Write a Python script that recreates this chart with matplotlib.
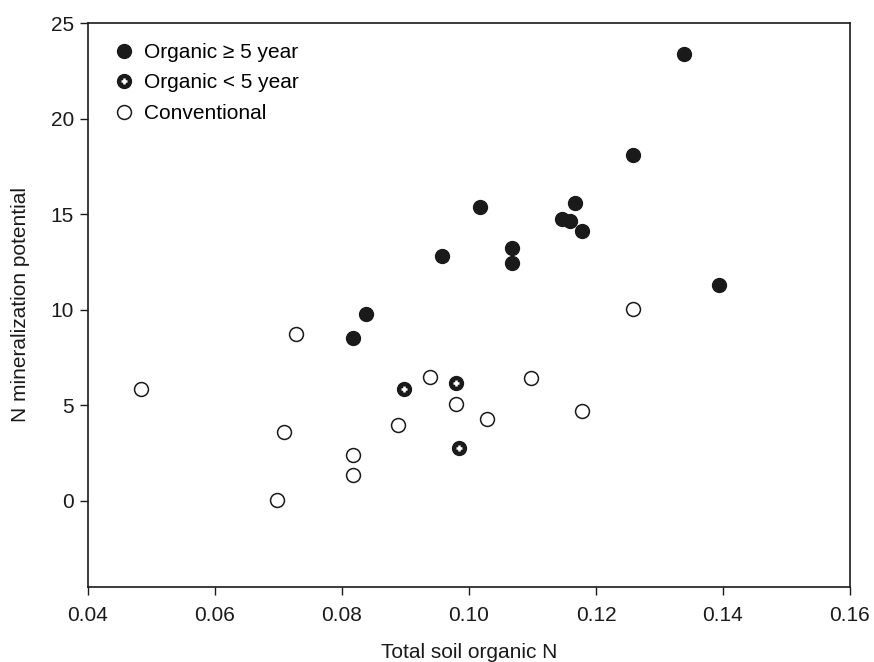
import matplotlib
matplotlib.use("Agg")
import matplotlib.pyplot as plt
from matplotlib.lines import Line2D

plt.rcParams['font.family'] = ['Liberation Sans', 'DejaVu Sans']

# Organic >= 5 year
org5_x = [0.1338, 0.1258, 0.1167, 0.1018, 0.1147, 0.1159, 0.1178, 0.1068, 0.1068, 0.0958, 0.1393, 0.0838, 0.0818]
org5_y = [23.38, 18.10, 15.59, 15.38, 14.75, 14.66, 14.10, 13.23, 12.47, 12.81, 11.32, 9.79, 8.51]

# Organic < 5 year
orgl_x = [0.0898, 0.0979, 0.0985]
orgl_y = [5.85, 6.19, 2.78]

# Conventional
conv_x = [0.0483, 0.0728, 0.0708, 0.0818, 0.0818, 0.0698, 0.0888, 0.0938, 0.0979, 0.1028, 0.1098, 0.1178, 0.1258]
conv_y = [5.85, 8.74, 3.58, 2.41, 1.35, 0.04, 3.97, 6.47, 5.05, 4.27, 6.41, 4.70, 10.05]

xticks = [0.04, 0.06, 0.08, 0.10, 0.12, 0.14, 0.16]
yticks = [0, 5, 10, 15, 20, 25]

fig = plt.figure(figsize=(8.74, 6.62), dpi=100)
ax = fig.add_axes([0.1007, 0.1138, 0.9725 - 0.1007, 0.9648 - 0.1138])

ms = 10
ax.plot(org5_x, org5_y, 'o', ms=ms, mfc='#1a1a1a', mec='#1a1a1a', mew=1.0, ls='none')
ax.plot(orgl_x, orgl_y, 'o', ms=ms, mfc='#1a1a1a', mec='#1a1a1a', mew=1.0, ls='none')
ax.plot(orgl_x, orgl_y, '+', ms=4.5, mec='white', mew=1.8, ls='none')
ax.plot(conv_x, conv_y, 'o', ms=ms, mfc='white', mec='#1a1a1a', mew=1.1, ls='none')

ax.set_xlim(0.04, 0.16)
ax.set_ylim(-4.5, 25)
ax.set_xticks(xticks)
ax.set_xticklabels([f"{v:.2f}" for v in xticks])
ax.set_yticks(yticks)
ax.set_yticklabels([str(v) for v in yticks])
ax.tick_params(direction='out', length=6, width=1.0, labelsize=15, pad=8, colors='#1a1a1a')
ax.tick_params(axis='y', pad=4)
for s in ax.spines.values():
    s.set_linewidth(1.2)
    s.set_color('#1a1a1a')

ax.set_xlabel('Total soil organic N', fontsize=15, labelpad=13, color='#1a1a1a')
ax.set_ylabel('N mineralization potential', fontsize=15, labelpad=15, color='#1a1a1a')

h1 = Line2D([], [], marker='o', ls='none', ms=ms, mfc='#1a1a1a', mec='#1a1a1a')
h2a = Line2D([], [], marker='o', ls='none', ms=ms, mfc='#1a1a1a', mec='#1a1a1a')
h2b = Line2D([], [], marker='+', ls='none', ms=4.5, mec='white', mew=1.8)
h3 = Line2D([], [], marker='o', ls='none', ms=ms, mfc='white', mec='#1a1a1a', mew=1.1)
ax.legend([h1, (h2a, h2b), h3], ['Organic \u2265 5 year', 'Organic < 5 year', 'Conventional'],
          loc='upper left', frameon=False, fontsize=15, handletextpad=0.35,
          labelspacing=0.55, borderaxespad=0.0, handlelength=1.2,
          bbox_to_anchor=(0.02, 0.98))

fig.savefig('out.png', dpi=100)
